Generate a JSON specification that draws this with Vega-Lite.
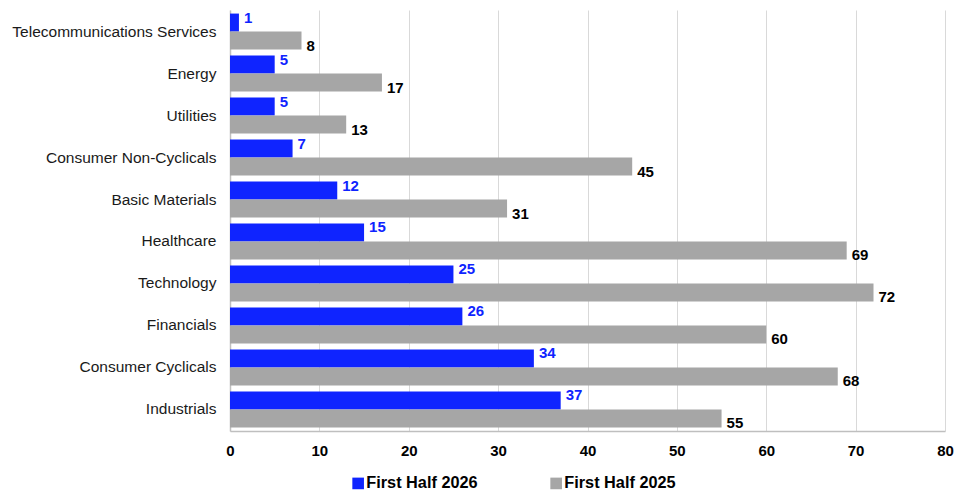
{
  "$schema": "https://vega.github.io/schema/vega-lite/v6.json",
  "width": 715,
  "height": 421,
  "autosize": {"type": "none"},
  "padding": {"left": 230, "top": 10, "right": 10, "bottom": 61},
  "background": "white",
  "data": {
    "values": [
      {"sector": "Telecommunications Services", "series": "First Half 2026", "value": 1},
      {"sector": "Telecommunications Services", "series": "First Half 2025", "value": 8},
      {"sector": "Energy", "series": "First Half 2026", "value": 5},
      {"sector": "Energy", "series": "First Half 2025", "value": 17},
      {"sector": "Utilities", "series": "First Half 2026", "value": 5},
      {"sector": "Utilities", "series": "First Half 2025", "value": 13},
      {"sector": "Consumer Non-Cyclicals", "series": "First Half 2026", "value": 7},
      {"sector": "Consumer Non-Cyclicals", "series": "First Half 2025", "value": 45},
      {"sector": "Basic Materials", "series": "First Half 2026", "value": 12},
      {"sector": "Basic Materials", "series": "First Half 2025", "value": 31},
      {"sector": "Healthcare", "series": "First Half 2026", "value": 15},
      {"sector": "Healthcare", "series": "First Half 2025", "value": 69},
      {"sector": "Technology", "series": "First Half 2026", "value": 25},
      {"sector": "Technology", "series": "First Half 2025", "value": 72},
      {"sector": "Financials", "series": "First Half 2026", "value": 26},
      {"sector": "Financials", "series": "First Half 2025", "value": 60},
      {"sector": "Consumer Cyclicals", "series": "First Half 2026", "value": 34},
      {"sector": "Consumer Cyclicals", "series": "First Half 2025", "value": 68},
      {"sector": "Industrials", "series": "First Half 2026", "value": 37},
      {"sector": "Industrials", "series": "First Half 2025", "value": 55}
    ]
  },
  "config": {
    "font": "Liberation Sans",
    "view": {"stroke": null}
  },
  "encoding": {
    "y": {
      "field": "sector",
      "type": "nominal",
      "sort": null,
      "scale": {"paddingInner": 0.143, "paddingOuter": 0.085},
      "axis": {
        "title": null,
        "ticks": false,
        "labelPadding": 14,
        "labelFontSize": 15.5,
        "labelColor": "#1A1A1A",
        "labelLimit": 300,
        "domainColor": "#BFBFBF",
        "domainWidth": 1.5,
        "grid": false
      }
    },
    "x": {
      "field": "value",
      "type": "quantitative",
      "scale": {"domain": [0, 80], "nice": false},
      "axis": {
        "title": null,
        "values": [0, 10, 20, 30, 40, 50, 60, 70, 80],
        "ticks": false,
        "labelFlush": false,
        "labelPadding": 12,
        "labelFontSize": 15,
        "labelFontWeight": "bold",
        "labelColor": "#000000",
        "gridColor": "#D9D9D9",
        "gridWidth": 1,
        "domainColor": "#BFBFBF",
        "domainWidth": 1.5
      }
    },
    "yOffset": {
      "field": "series",
      "type": "nominal",
      "sort": ["First Half 2026", "First Half 2025"],
      "scale": {"domain": ["First Half 2026", "First Half 2025"], "paddingInner": 0, "paddingOuter": 0}
    }
  },
  "layer": [
    {
      "mark": {"type": "bar"},
      "encoding": {
        "color": {
          "field": "series",
          "type": "nominal",
          "scale": {"domain": ["First Half 2026", "First Half 2025"], "range": ["#0F24FF", "#A6A6A6"]},
          "legend": {
            "title": null,
            "orient": "none",
            "direction": "horizontal",
            "legendX": 120,
            "legendY": 465,
            "symbolType": "square",
            "symbolSize": 135,
            "symbolStrokeWidth": 0,
            "labelFontSize": 16.3,
            "labelFontWeight": "bold",
            "labelColor": "#000000",
            "labelOffset": 0,
            "columnPadding": 70,
            "labelLimit": 300
          }
        }
      }
    },
    {
      "transform": [{"filter": "datum.series === 'First Half 2026'"}],
      "mark": {"type": "text", "align": "left", "baseline": "middle", "dx": 5, "dy": -5, "fontSize": 15, "fontWeight": "bold", "color": "#0F24FF"},
      "encoding": {"text": {"field": "value", "type": "quantitative"}}
    },
    {
      "transform": [{"filter": "datum.series === 'First Half 2025'"}],
      "mark": {"type": "text", "align": "left", "baseline": "middle", "dx": 5, "dy": 5, "fontSize": 15, "fontWeight": "bold", "color": "#000000"},
      "encoding": {"text": {"field": "value", "type": "quantitative"}}
    }
  ]
}
